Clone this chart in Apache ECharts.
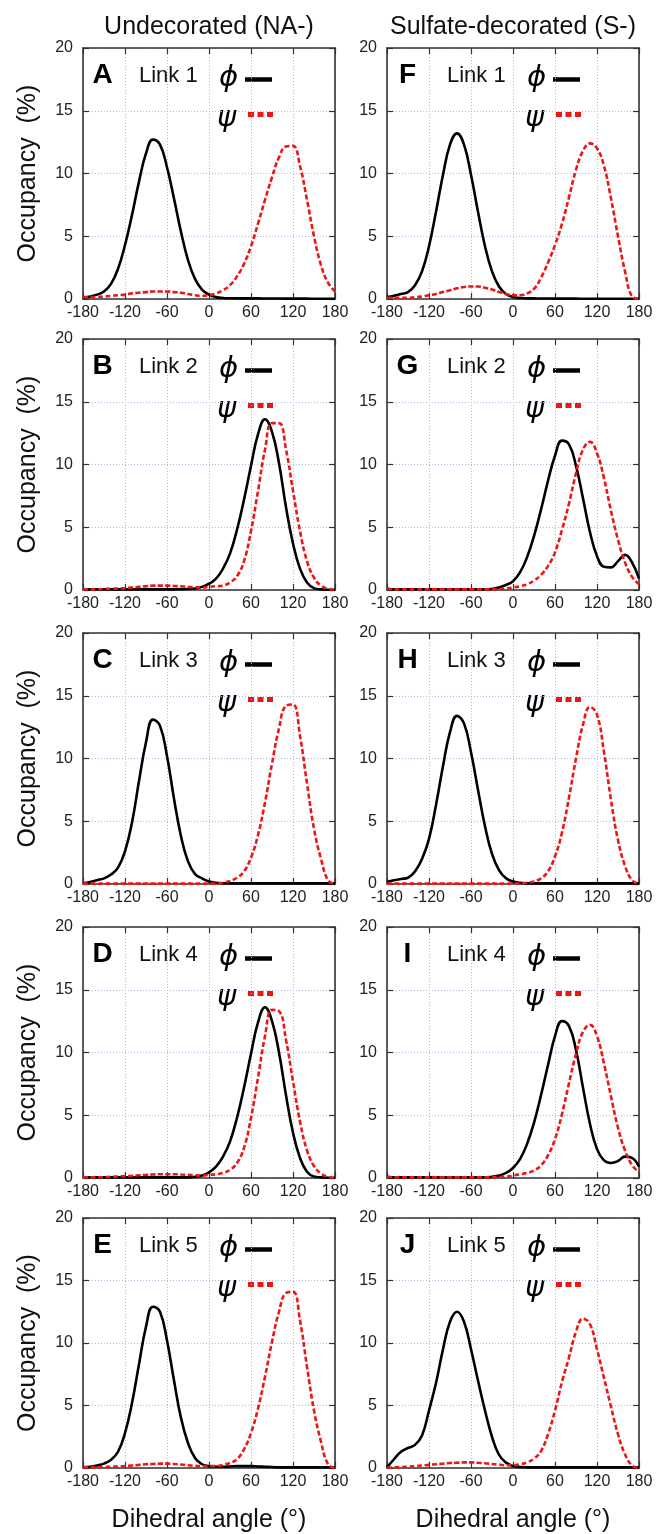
<!DOCTYPE html>
<html>
<head>
<meta charset="utf-8">
<title>Dihedral angle occupancy</title>
<script src="https://cdn.jsdelivr.net/npm/echarts@6/dist/echarts.min.js"></script>
<style>
  html, body { margin: 0; padding: 0; background: #fff; }
  #chart { width: 657px; height: 1534px; }
</style>
</head>
<body>
<div id="chart"></div>
<script>
// dihedral angle bins (deg)
const angles = [-180, -170, -160, -150, -140, -130, -120, -110, -100, -90, -80, -70, -60, -50, -40, -30, -20, -10,
  0, 10, 20, 30, 40, 50, 60, 70, 80, 90, 100, 110, 120, 130, 140, 150, 160, 170, 180];

// undecorated (NA-), occupancy in %
const phiNA1 = [0.1, 0.2, 0.35, 0.6, 1.2, 2.4, 4.3, 6.7, 9.35, 11.6, 12.7, 12.3, 10.5, 8.0, 5.35, 3.1, 1.6, 0.75,
  0.35, 0.15, 0.08, 0.06, 0.05, 0.05, 0.05, 0.05, 0.04, 0.04, 0.04, 0.03, 0.03, 0.03, 0.03, 0.02, 0.02, 0.02, 0.02];
const psiNA1 = [0.15, 0.15, 0.15, 0.2, 0.25, 0.3, 0.35, 0.45, 0.5, 0.55, 0.6, 0.6, 0.6, 0.55, 0.5, 0.4, 0.3, 0.25,
  0.3, 0.45, 0.7, 1.1, 1.8, 2.8, 4.2, 6.0, 7.9, 9.7, 11.3, 12.15, 12.2, 10.6, 7.9, 5.0, 2.7, 1.3, 0.6];
const phiNA2 = [0.05, 0.05, 0.05, 0.05, 0.05, 0.05, 0.05, 0.05, 0.05, 0.05, 0.05, 0.05, 0.05, 0.05, 0.06, 0.08, 0.12, 0.25,
  0.5, 0.9, 1.7, 2.9, 4.8, 7.2, 9.9, 12.4, 13.6, 12.6, 10.1, 6.6, 3.7, 1.7, 0.6, 0.15, 0.05, 0.02, 0.0];
const psiNA2 = [0.05, 0.05, 0.05, 0.08, 0.1, 0.12, 0.15, 0.2, 0.25, 0.3, 0.35, 0.35, 0.35, 0.32, 0.3, 0.25, 0.22, 0.2,
  0.25, 0.3, 0.35, 0.6, 1.1, 2.3, 4.7, 7.9, 11.2, 13.3, 13.3, 11.2, 7.9, 4.7, 2.3, 0.98, 0.35, 0.1, 0.03];
const phiNA3 = [0.05, 0.15, 0.3, 0.45, 0.75, 1.3, 2.6, 4.9, 8.2, 11.3, 13.1, 12.6, 10.2, 6.8, 3.8, 1.8, 0.8, 0.45,
  0.2, 0.1, 0.06, 0.05, 0.05, 0.05, 0.05, 0.05, 0.05, 0.05, 0.05, 0.05, 0.05, 0.05, 0.05, 0.05, 0.05, 0.05, 0.05];
const psiNA3 = [0.03, 0.03, 0.03, 0.03, 0.03, 0.03, 0.03, 0.03, 0.03, 0.03, 0.03, 0.03, 0.03, 0.03, 0.03, 0.03, 0.03, 0.03,
  0.03, 0.03, 0.1, 0.25, 0.5, 1.0, 2.1, 3.9, 6.5, 9.6, 12.4, 14.2, 14.3, 11.8, 8.0, 4.4, 2.0, 0.3, 0.0];
const phiNA4 = [0.05, 0.05, 0.05, 0.05, 0.05, 0.05, 0.05, 0.05, 0.05, 0.05, 0.05, 0.05, 0.05, 0.05, 0.05, 0.05, 0.1, 0.2,
  0.45, 0.9, 1.7, 2.9, 4.8, 7.2, 9.9, 12.4, 13.6, 12.5, 10.0, 6.6, 3.6, 1.6, 0.5, 0.12, 0.05, 0.02, 0.0];
const psiNA4 = [0.05, 0.05, 0.05, 0.07, 0.1, 0.12, 0.15, 0.18, 0.22, 0.25, 0.28, 0.3, 0.3, 0.3, 0.28, 0.25, 0.22, 0.2,
  0.25, 0.3, 0.4, 0.65, 1.2, 2.4, 4.8, 8.0, 11.3, 13.4, 13.3, 11.0, 7.7, 4.5, 2.2, 0.95, 0.35, 0.1, 0.03];
const phiNA5 = [0.05, 0.1, 0.2, 0.35, 0.65, 1.3, 2.8, 5.2, 8.3, 11.3, 12.9, 12.5, 10.2, 7.0, 4.0, 2.0, 0.8, 0.3,
  0.15, 0.1, 0.1, 0.12, 0.15, 0.15, 0.15, 0.12, 0.1, 0.08, 0.05, 0.05, 0.05, 0.05, 0.05, 0.05, 0.05, 0.05, 0.05];
const psiNA5 = [0.05, 0.05, 0.05, 0.08, 0.1, 0.12, 0.15, 0.2, 0.25, 0.3, 0.32, 0.35, 0.35, 0.32, 0.28, 0.22, 0.18, 0.15,
  0.15, 0.15, 0.25, 0.4, 0.7, 1.5, 2.8, 4.75, 7.3, 10.1, 12.5, 14.0, 14.1, 11.8, 8.1, 4.6, 2.1, 0.3, 0.0];

// sulfate-decorated (S-)
const phiS1 = [0.15, 0.25, 0.4, 0.55, 1.1, 2.2, 4.2, 6.95, 9.9, 12.3, 13.2, 12.3, 9.9, 6.95, 4.2, 2.2, 1.0, 0.4,
  0.15, 0.08, 0.05, 0.05, 0.04, 0.04, 0.03, 0.03, 0.03, 0.03, 0.02, 0.02, 0.02, 0.02, 0.02, 0.02, 0.02, 0.02, 0.02];
const psiS1 = [0.1, 0.1, 0.1, 0.1, 0.15, 0.2, 0.3, 0.4, 0.55, 0.7, 0.85, 0.95, 1.0, 1.0, 0.9, 0.75, 0.55, 0.4,
  0.3, 0.3, 0.45, 0.8, 1.7, 2.9, 4.3, 6.0, 8.1, 10.3, 11.8, 12.4, 12.0, 10.6, 8.0, 5.0, 2.2, 0.2, 0.0];
const phiS2 = [0.1, 0.05, 0.05, 0.05, 0.05, 0.05, 0.05, 0.05, 0.05, 0.05, 0.05, 0.05, 0.05, 0.05, 0.05, 0.08, 0.2, 0.4,
  0.7, 1.4, 2.6, 4.3, 6.4, 8.7, 10.7, 11.9, 11.6, 9.9, 7.3, 4.6, 2.7, 1.85, 1.8, 2.3, 2.8, 2.2, 0.9];
const psiS2 = [0.1, 0.05, 0.05, 0.05, 0.05, 0.05, 0.05, 0.05, 0.05, 0.05, 0.05, 0.05, 0.05, 0.05, 0.05, 0.05, 0.08, 0.12,
  0.2, 0.3, 0.45, 0.75, 1.2, 1.9, 3.0, 4.8, 6.9, 9.3, 11.2, 11.8, 10.9, 8.9, 6.3, 4.0, 2.2, 1.06, 0.45];
const phiS3 = [0.15, 0.3, 0.4, 0.5, 1.0, 2.0, 3.6, 6.3, 9.4, 12.1, 13.4, 12.8, 10.5, 7.5, 4.6, 2.4, 1.1, 0.45,
  0.2, 0.1, 0.05, 0.05, 0.05, 0.05, 0.05, 0.05, 0.05, 0.05, 0.05, 0.05, 0.05, 0.05, 0.05, 0.05, 0.05, 0.05, 0.05];
const psiS3 = [0.03, 0.03, 0.03, 0.03, 0.03, 0.03, 0.03, 0.03, 0.03, 0.03, 0.03, 0.03, 0.03, 0.03, 0.03, 0.03, 0.03, 0.03,
  0.03, 0.05, 0.1, 0.2, 0.45, 1.0, 2.2, 4.1, 6.9, 10.0, 12.7, 14.1, 13.5, 10.5, 6.7, 3.5, 1.45, 0.3, 0.0];
const phiS4 = [0.1, 0.05, 0.05, 0.05, 0.05, 0.05, 0.05, 0.05, 0.05, 0.05, 0.05, 0.05, 0.05, 0.05, 0.05, 0.1, 0.2, 0.4,
  0.8, 1.5, 2.7, 4.4, 6.6, 9.0, 11.3, 12.5, 12.1, 10.2, 7.2, 4.3, 2.3, 1.4, 1.2, 1.35, 1.7, 1.6, 0.9];
const psiS4 = [0.1, 0.05, 0.05, 0.05, 0.05, 0.05, 0.05, 0.05, 0.05, 0.05, 0.05, 0.05, 0.05, 0.05, 0.05, 0.05, 0.08, 0.1,
  0.2, 0.3, 0.4, 0.6, 1.0, 1.8, 3.1, 5.1, 7.55, 9.9, 11.65, 12.2, 11.3, 9.1, 6.5, 4.0, 2.2, 1.04, 0.45];
const phiS5 = [0.05, 0.7, 1.3, 1.6, 1.85, 2.6, 4.6, 6.8, 9.5, 11.7, 12.5, 11.7, 9.5, 7.0, 4.6, 2.5, 1.06, 0.43,
  0.15, 0.08, 0.05, 0.05, 0.05, 0.05, 0.05, 0.05, 0.05, 0.05, 0.05, 0.05, 0.05, 0.05, 0.05, 0.05, 0.05, 0.05, 0.05];
const psiS5 = [0.02, 0.05, 0.08, 0.1, 0.15, 0.2, 0.25, 0.3, 0.35, 0.4, 0.42, 0.45, 0.45, 0.42, 0.38, 0.32, 0.27, 0.22,
  0.22, 0.3, 0.45, 0.75, 1.35, 2.7, 4.6, 6.9, 8.85, 10.9, 11.95, 11.5, 9.5, 7.2, 4.9, 2.7, 1.1, 0.2, 0.0];

const panelLetters = ['A', 'B', 'C', 'D', 'E', 'F', 'G', 'H', 'I', 'J'];
const linkNames = ['Link 1', 'Link 2', 'Link 3', 'Link 4', 'Link 5'];
const columnTitles = ['Undecorated (NA-)', 'Sulfate-decorated (S-)'];
const phiData = [phiNA1, phiNA2, phiNA3, phiNA4, phiNA5, phiS1, phiS2, phiS3, phiS4, phiS5];
const psiData = [psiNA1, psiNA2, psiNA3, psiNA4, psiNA5, psiS1, psiS2, psiS3, psiS4, psiS5];

// layout (px)
const colLeft = [83, 387];
const rowTop = [48, 339, 633, 927, 1218];
const plotW = 252;
const plotH = 251;
const FONT = '"Liberation Sans", Arial, Helvetica, sans-serif';
const GREEK = '"DejaVu Sans", "Liberation Sans", sans-serif';
const RED = '#ee1515';
const FRAME = '#333';

const grids = [], xAxes = [], yAxes = [], series = [], graphics = [];

for (let p = 0; p < 10; p++) {
  const col = Math.floor(p / 5);
  const row = p % 5;
  const L = colLeft[col], T = rowTop[row];
  grids.push({ left: L, top: T, width: plotW, height: plotH });

  const tick = { inside: true, length: 6, lineStyle: { color: FRAME, width: 1.2 } };
  const line = { show: true, onZero: false, lineStyle: { color: FRAME, width: 1.6 } };
  const grid = { show: true, lineStyle: { color: '#a9b9e2', type: [1, 2], width: 1 } };

  // bottom + top x axes
  xAxes.push({
    gridIndex: p, type: 'value', min: -180, max: 180, interval: 60,
    axisLine: line, axisTick: tick, splitLine: grid,
    axisLabel: { color: '#222', fontSize: 16, fontFamily: FONT, margin: 6, showMinLabel: true, showMaxLabel: true },
    name: row === 4 ? 'Dihedral angle (°)' : '', nameLocation: 'middle', nameGap: 40,
    nameTextStyle: { color: '#111', fontSize: 25, fontFamily: FONT }
  });
  xAxes.push({
    gridIndex: p, type: 'value', position: 'top', min: -180, max: 180, interval: 60,
    axisLine: line, axisTick: tick, splitLine: { show: false }, axisLabel: { show: false }
  });
  // left + right y axes
  yAxes.push({
    gridIndex: p, type: 'value', min: 0, max: 20, interval: 5,
    axisLine: line, axisTick: tick, splitLine: grid,
    axisLabel: { color: '#222', fontSize: 16, fontFamily: FONT, margin: 10 },
    name: col === 0 ? 'Occupancy  (%)' : '', nameLocation: 'middle', nameGap: 42,
    nameTextStyle: { color: '#111', fontSize: 25, fontFamily: FONT }
  });
  yAxes.push({
    gridIndex: p, type: 'value', position: 'right', min: 0, max: 20, interval: 5,
    axisLine: line, axisTick: tick, splitLine: { show: false }, axisLabel: { show: false }
  });

  series.push({
    type: 'line', name: 'phi', xAxisIndex: 2 * p, yAxisIndex: 2 * p,
    data: angles.map((a, i) => [a, phiData[p][i]]),
    showSymbol: false, smooth: 0.45, z: 3,
    lineStyle: { color: '#000', width: 2.6 }
  });
  series.push({
    type: 'line', name: 'psi', xAxisIndex: 2 * p, yAxisIndex: 2 * p,
    data: angles.map((a, i) => [a, psiData[p][i]]),
    showSymbol: false, smooth: 0.45, z: 4,
    lineStyle: { color: RED, width: 2.6, type: [5, 2.5] }
  });

  // in-panel annotations
  const dx = col === 0 ? 0 : 4;
  graphics.push(
    { type: 'text', x: L + 19.5 + (col ? 1 : 0), y: T + 27,
      style: { text: panelLetters[p], font: 'bold 28px ' + FONT, fill: '#000', textAlign: 'center', textVerticalAlign: 'middle' } },
    { type: 'text', x: L + 56 + dx, y: T + 28,
      style: { text: linkNames[row], font: '22px ' + FONT, fill: '#111', textAlign: 'left', textVerticalAlign: 'middle' } },
    { type: 'text', x: L + 136 + dx, y: T + 30,
      style: { text: 'ϕ', font: 'italic 29px ' + GREEK, fill: '#000', textAlign: 'left', textVerticalAlign: 'middle' } },
    { type: 'line', shape: { x1: L + 162 + dx, y1: T + 31.5, x2: L + 189 + dx, y2: T + 31.5 },
      style: { stroke: '#000', lineWidth: 4.5 } },
    { type: 'text', x: L + 134 + dx, y: T + 70,
      style: { text: 'ψ', font: 'italic 29px ' + GREEK, fill: '#000', textAlign: 'left', textVerticalAlign: 'middle' } },
    { type: 'line', shape: { x1: L + 165 + dx, y1: T + 66.5, x2: L + 190 + dx, y2: T + 66.5 },
      style: { stroke: RED, lineWidth: 5, lineDash: [6, 3.5] } }
  );
}

// column titles
columnTitles.forEach((t, c) => {
  graphics.push({ type: 'text', x: colLeft[c] + plotW / 2, y: 27,
    style: { text: t, font: '25px ' + FONT, fill: '#111', textAlign: 'center', textVerticalAlign: 'middle' } });
});

const chart = echarts.init(document.getElementById('chart'));
chart.setOption({
  animation: false,
  backgroundColor: '#fff',
  grid: grids,
  xAxis: xAxes,
  yAxis: yAxes,
  series: series,
  graphic: graphics
});
</script>
</body>
</html>
